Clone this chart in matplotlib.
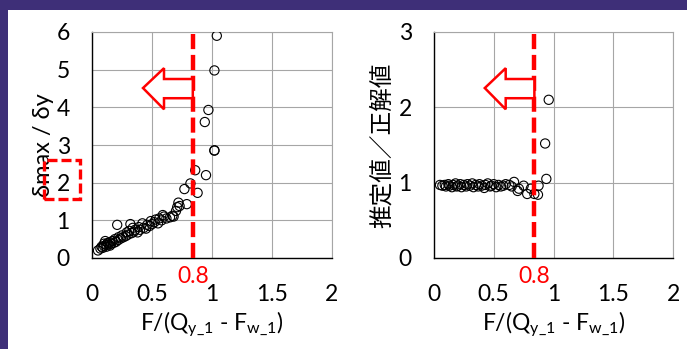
import matplotlib
matplotlib.use("Agg")
import matplotlib.pyplot as plt
from matplotlib.patches import Polygon, Rectangle

plt.rcParams["font.family"] = ["Lato", "Noto Sans CJK JP", "DejaVu Sans"]
plt.rcParams["mathtext.fontset"] = "custom"
plt.rcParams["mathtext.rm"] = "Lato"
plt.rcParams["mathtext.it"] = "Lato"

# left panel: deformation ratio vs load ratio
left_x = [0.05, 0.07, 0.08, 0.09, 0.10, 0.10, 0.11, 0.12, 0.12, 0.13, 0.14, 0.15,
          0.15, 0.16, 0.17, 0.18, 0.19, 0.20, 0.21, 0.22, 0.22, 0.24, 0.25, 0.26,
          0.28, 0.29, 0.30, 0.31, 0.32, 0.33, 0.34, 0.35, 0.36, 0.38, 0.39, 0.40,
          0.42, 0.43, 0.45, 0.46, 0.48, 0.49, 0.50, 0.52, 0.53, 0.55, 0.56, 0.58,
          0.59, 0.60, 0.62, 0.65, 0.67, 0.68, 0.70, 0.71, 0.72, 0.73, 0.77, 0.79,
          0.82, 0.86, 0.88, 0.94, 0.95, 0.97, 1.02, 1.02, 1.02, 1.04]
left_y = [0.20, 0.25, 0.30, 0.27, 0.38, 0.32, 0.45, 0.35, 0.30, 0.40, 0.36, 0.42,
          0.33, 0.38, 0.45, 0.40, 0.50, 0.43, 0.88, 0.48, 0.55, 0.52, 0.60, 0.55,
          0.58, 0.68, 0.62, 0.72, 0.90, 0.66, 0.80, 0.70, 0.75, 0.68, 0.82, 0.75,
          0.92, 0.80, 0.78, 0.88, 0.85, 0.98, 0.90, 0.95, 1.02, 0.92, 1.05, 1.00,
          1.14, 1.10, 1.05, 1.08, 1.12, 1.10, 1.25, 1.35, 1.47, 1.38, 1.83, 1.43,
          1.98, 2.33, 1.73, 3.61, 2.20, 3.93, 2.85, 2.86, 4.98, 5.90]

# right panel: estimated / true
right_x = [0.05, 0.07, 0.09, 0.10, 0.12, 0.13, 0.15, 0.16, 0.18, 0.19, 0.20, 0.22,
           0.23, 0.25, 0.27, 0.28, 0.30, 0.32, 0.33, 0.35, 0.37, 0.38, 0.40, 0.42,
           0.43, 0.45, 0.47, 0.48, 0.50, 0.52, 0.54, 0.56, 0.58, 0.60, 0.63, 0.65,
           0.67, 0.70, 0.71, 0.75, 0.78, 0.81, 0.84, 0.87, 0.875, 0.93, 0.94, 0.96]
right_y = [0.97, 0.96, 0.97, 0.95, 0.98, 0.96, 0.94, 0.97, 0.99, 0.95, 0.96, 0.98,
           0.94, 0.97, 0.95, 0.98, 0.96, 0.99, 0.94, 0.97, 0.95, 0.98, 0.96, 0.93,
           0.97, 0.99, 0.95, 0.96, 0.98, 0.94, 0.97, 0.95, 0.96, 0.98, 0.97, 0.95,
           1.01, 0.89, 0.92, 0.96, 0.85, 0.92, 0.85, 0.84, 0.96, 1.52, 1.05, 2.10]

THRESHOLD_POS = 0.84
THRESHOLD_LABEL = "0.8"
X_TICKS = [0, 0.5, 1, 1.5, 2]
X_TICK_LABELS = ["0", "0.5", "1", "1.5", "2"]
XLABEL = r"F/(Q$_{\mathrm{y\_1}}$ - F$_{\mathrm{w\_1}}$)"
RED = "#ff0000"
FRAME = "#3e2f78"
FS = 16.5

fig = plt.figure(figsize=(6.87, 3.49), dpi=100)

# purple slide frame (top and left bands)
fig.patches.append(Rectangle((0, 1 - 9.5 / 349), 1, 9.5 / 349, transform=fig.transFigure,
                             facecolor=FRAME, edgecolor="none", zorder=0))
fig.patches.append(Rectangle((0, 0), 7.5 / 687, 1, transform=fig.transFigure,
                             facecolor=FRAME, edgecolor="none", zorder=0))

ax_l = fig.add_axes([92 / 687, 91 / 349, 240 / 687, 226 / 349])
ax_r = fig.add_axes([434 / 687, 91 / 349, 239 / 687, 226 / 349])


def style_panel(ax, xs, ys, ymax, ylabel, ylabel_size, ylabel_pad):
    ax.scatter(xs, ys, s=44, facecolors="none", edgecolors="black", linewidths=0.8, zorder=3)
    ax.set_xlim(0, 2)
    ax.set_ylim(0, ymax)
    ax.set_xticks(X_TICKS)
    ax.set_xticklabels(X_TICK_LABELS)
    ax.set_yticks(range(0, ymax + 1))
    ax.tick_params(axis="x", length=0, pad=19, labelsize=FS)
    ax.tick_params(axis="y", length=0, pad=16, labelsize=FS)
    ax.grid(True, color="#a6a6a6", linewidth=0.8)
    ax.set_axisbelow(True)
    for side in ("top", "right"):
        ax.spines[side].set_color("#a6a6a6")
        ax.spines[side].set_linewidth(0.8)
    for side in ("left", "bottom"):
        ax.spines[side].set_color("black")
        ax.spines[side].set_linewidth(1.0)
    ax.set_xlabel(XLABEL, fontsize=FS, labelpad=3)
    ax.set_ylabel(ylabel, fontsize=ylabel_size, labelpad=ylabel_pad)

    # threshold line and its label
    ax.axvline(THRESHOLD_POS, color=RED, linewidth=3.2, dashes=(3.4, 1.3), zorder=4)
    ax.text(THRESHOLD_POS, -0.035, THRESHOLD_LABEL, transform=ax.get_xaxis_transform(),
            color=RED, fontsize=FS, ha="center", va="top")

    # hollow arrow pointing left
    xf = THRESHOLD_POS / 2
    arrow = [(0.2125, 0.752), (0.30, 0.84), (0.30, 0.792), (xf, 0.792),
             (xf, 0.707), (0.30, 0.707), (0.30, 0.658)]
    ax.add_patch(Polygon(arrow, closed=True, transform=ax.transAxes, facecolor="white",
                         edgecolor=RED, linewidth=1.8, zorder=5))


style_panel(ax_l, left_x, left_y, 6, "δmax / δy", 17, 2)
style_panel(ax_r, right_x, right_y, 3, "推定値／正解値", 17, 4)

# dashed box highlighting the "2" tick on the left panel
fig.patches.append(Rectangle((44 / 687, 1 - 199 / 349), 36 / 687, 39 / 349,
                             transform=fig.transFigure, facecolor="none", edgecolor=RED,
                             linewidth=2.4, linestyle=(0, (3, 1.2)), zorder=10))

fig.savefig("out.png", dpi=100)
